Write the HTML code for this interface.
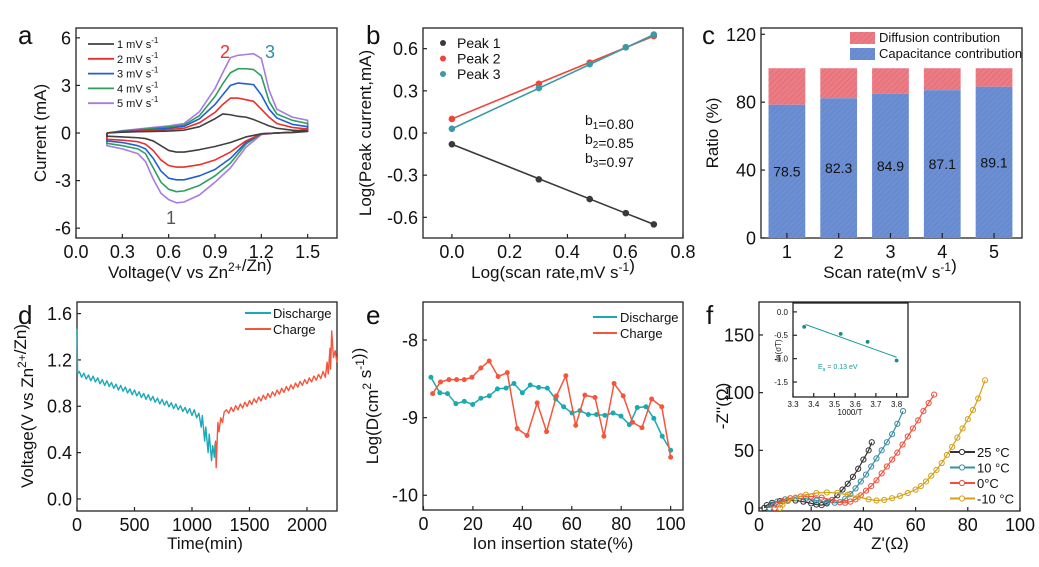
<!DOCTYPE html>
<html><head><meta charset="utf-8">
<style>
html,body{margin:0;padding:0;background:#fff;}
svg{display:block;font-family:"Liberation Sans",Arial,sans-serif;}
</style></head>
<body>
<svg id="fig" width="1039" height="567" viewBox="0 0 1039 567" xmlns="http://www.w3.org/2000/svg">
<defs>
<pattern id="hatchR" patternUnits="userSpaceOnUse" width="4" height="4" patternTransform="rotate(45)">
<rect width="4" height="4" fill="#ee7b82"/><line x1="0" y1="0" x2="0" y2="4" stroke="#c9687e" stroke-width="1"/>
</pattern>
<pattern id="hatchB" patternUnits="userSpaceOnUse" width="4" height="4" patternTransform="rotate(45)">
<rect width="4" height="4" fill="#6b8fd2"/><line x1="0" y1="0" x2="0" y2="4" stroke="#5e7fc4" stroke-width="1"/>
</pattern>
</defs>
</svg>
<script>
// ---------- Panel a data ----------
const cvRates = ['1 mV s-1','2 mV s-1','3 mV s-1','4 mV s-1','5 mV s-1'];
const cvVup = [0.2,0.3,0.4,0.5,0.6,0.7,0.8,0.9,0.95,1.0,1.05,1.1,1.15,1.2,1.25,1.3,1.4,1.5];
const cvUp1 = [0,0.05,0.08,0.1,0.12,0.18,0.4,0.9,1.2,1.15,1.05,1.0,0.85,0.65,0.45,0.3,0.18,0.12];
const cvUp2 = [0,0.08,0.12,0.16,0.22,0.3,0.65,1.3,1.8,2.2,2.2,2.1,2.0,1.5,1.0,0.6,0.35,0.25];
const cvUp3 = [0,0.1,0.15,0.22,0.3,0.42,0.9,1.8,2.4,3.0,3.15,3.1,3.05,2.4,1.5,0.95,0.55,0.4];
const cvUp4 = [0,0.12,0.2,0.3,0.38,0.5,1.1,2.3,3.1,3.8,4.05,4.05,4.0,3.6,2.0,1.2,0.8,0.6];
const cvUp5 = [0,0.15,0.25,0.35,0.45,0.6,1.35,2.8,3.8,4.75,4.9,4.95,5.0,4.7,2.7,1.5,1.0,0.8];
const cvVdn = [0.2,0.3,0.4,0.45,0.5,0.55,0.6,0.65,0.7,0.8,0.9,1.0,1.1,1.2,1.3,1.4,1.5];
const cvDn1 = [-0.2,-0.25,-0.3,-0.35,-0.5,-0.8,-1.1,-1.2,-1.2,-1.05,-0.85,-0.6,-0.25,-0.05,0.0,0.03,0.1];
const cvDn2 = [-0.4,-0.45,-0.55,-0.7,-1.1,-1.7,-2.05,-2.15,-2.15,-2.0,-1.7,-1.2,-0.5,-0.05,0.0,0.05,0.15];
const cvDn3 = [-0.5,-0.6,-0.8,-1.0,-1.6,-2.4,-2.85,-2.95,-2.95,-2.7,-2.3,-1.6,-0.6,-0.05,0.0,0.05,0.2];
const cvDn4 = [-0.65,-0.8,-1.0,-1.3,-2.2,-3.1,-3.55,-3.7,-3.65,-3.3,-2.7,-1.9,-0.7,-0.05,0.0,0.05,0.25];
const cvDn5 = [-0.8,-1.0,-1.3,-1.8,-2.9,-3.8,-4.2,-4.4,-4.35,-3.9,-3.1,-2.2,-0.9,-0.1,0.0,0.05,0.3];
const aXTicks = [0.0,0.3,0.6,0.9,1.2,1.5];
const aXLabels = ['0.0','0.3','0.6','0.9','1.2','1.5'];
const aYTicks = [-6,-3,0,3,6];
const aYLabels = ['-6','-3','0','3','6'];
// ---------- Panel b data ----------
const bLogRate = [0,0.301,0.477,0.602,0.699];
const bPeak1 = [-0.08,-0.33,-0.47,-0.57,-0.65];
const bPeak2 = [0.10,0.35,0.50,0.61,0.69];
const bPeak3 = [0.03,0.32,0.49,0.61,0.70];
const bXTicks = [0.0,0.2,0.4,0.6,0.8];
const bXLabels = ['0.0','0.2','0.4','0.6','0.8'];
const bYTicks = [-0.6,-0.3,0.0,0.3,0.6];
const bYLabels = ['-0.6','-0.3','0.0','0.3','0.6'];
// ---------- Panel c data ----------
const cRates = [1,2,3,4,5];
const cCap = [78.5,82.3,84.9,87.1,89.1];
const cCapLabels = ['78.5','82.3','84.9','87.1','89.1'];
const cTotal = [100,100,100,100,100];
const cYTicks = [0,40,80,120];
const cYLabels = ['0','40','80','120'];
// ---------- Panel d data ----------
const dDisT = [0,5,20,40,60,80,100,120,140,160,180,200,220,240,260,280,300,320,340,360,380,400,420,440,460,480,500,520,540,560,580,600,620,640,660,680,700,720,740,760,780,800,820,840,860,880,900,920,940,960,980,1000,1020,1040,1060,1080,1090,1110,1120,1140,1150,1170,1180,1195,1200];
const dDisV = [1.47,1.08,1.10,1.05,1.085,1.035,1.07,1.02,1.06,1.01,1.045,0.995,1.03,0.98,1.02,0.97,1.005,0.955,0.99,0.94,0.98,0.93,0.965,0.915,0.95,0.90,0.94,0.89,0.925,0.875,0.91,0.86,0.90,0.85,0.885,0.835,0.87,0.82,0.86,0.81,0.845,0.795,0.83,0.78,0.82,0.77,0.805,0.755,0.79,0.74,0.78,0.72,0.77,0.70,0.74,0.62,0.72,0.50,0.62,0.40,0.56,0.33,0.46,0.36,0.47];
const dChT = [1200,1205,1210,1225,1235,1250,1265,1280,1300,1320,1340,1360,1380,1400,1420,1440,1460,1480,1500,1520,1540,1560,1580,1600,1620,1640,1660,1680,1700,1720,1740,1760,1780,1800,1820,1840,1860,1880,1900,1920,1940,1960,1980,2000,2020,2040,2060,2080,2100,2120,2140,2160,2175,2185,2200,2205,2215,2230,2245,2260];
const dChV = [0.47,0.50,0.27,0.66,0.58,0.70,0.66,0.75,0.77,0.74,0.79,0.755,0.805,0.77,0.82,0.785,0.835,0.80,0.85,0.815,0.865,0.83,0.88,0.845,0.895,0.86,0.91,0.875,0.925,0.89,0.94,0.905,0.955,0.92,0.97,0.935,0.985,0.95,1.00,0.965,1.015,0.98,1.03,0.995,1.045,1.01,1.06,1.025,1.075,1.04,1.10,1.05,1.18,1.08,1.30,1.12,1.45,1.22,1.28,1.18];
const dXTicks = [0,500,1000,1500,2000];
const dXLabels = ['0','500','1000','1500','2000'];
const dYTicks = [0.0,0.4,0.8,1.2,1.6];
const dYLabels = ['0.0','0.4','0.8','1.2','1.6'];
// ---------- Panel e data ----------
const eDisX = [3.0,6.6,9.7,13.1,16.5,19.9,23.2,26.6,29.9,33.4,36.6,40.0,43.2,46.6,50.1,53.5,56.7,60.1,63.3,66.7,70.0,73.4,76.7,79.9,83.3,86.5,90.0,93.2,96.6,100];
const eDisY = [-8.48,-8.68,-8.69,-8.82,-8.79,-8.83,-8.75,-8.72,-8.63,-8.62,-8.56,-8.68,-8.58,-8.61,-8.62,-8.76,-8.86,-8.94,-8.91,-8.96,-8.96,-8.97,-8.94,-8.98,-9.09,-8.87,-8.86,-9.01,-9.24,-9.42];
const eChX = [3.7,6.9,10.3,13.4,16.5,19.6,23.2,26.6,30.2,33.9,37.9,41.9,46.0,49.8,53.8,57.6,61.6,65.3,69.4,73.0,77.1,80.8,84.6,88.4,92.3,96.4,100];
const eChY = [-8.69,-8.54,-8.51,-8.51,-8.51,-8.48,-8.36,-8.27,-8.47,-8.42,-9.14,-9.23,-8.81,-9.18,-8.72,-8.46,-9.10,-8.71,-8.74,-9.24,-8.56,-8.72,-9.06,-9.13,-8.76,-8.86,-9.51];
const eXTicks = [0,20,40,60,80,100];
const eXLabels = ['0','20','40','60','80','100'];
const eYTicks = [-10,-9,-8];
const eYLabels = ['-10','-9','-8'];
// ---------- Panel f data ----------
const fTemps = ['25 °C','10 °C','0°C','-10 °C'];
const f25X = [2,3,5,8,11,14,17,20,22,24,26,28,30,32,34,36,38,40,42,43.2];
const f25Y = [0,2.5,4.5,6,6.5,6.5,5.5,4,3,2.5,4,7,11,16,21,27,34,42,50,57];
const f10X = [4,5,7,10,14,18,22,26,29,31,33,35,37,39,41,43,45,47,49,51,53,55.2];
const f10Y = [0,3,5.5,7.5,8.5,8,6.5,5,4.5,5,8,12,17,23,29,36,43,50,57,64,73,84];
const f0X = [6,7,9,12,16,20,24,28,31,33,35,37,39,41,43,45,47,49,51,53,55,57,59,61,63,65,67.1];
const f0Y = [0,3,6,8.5,10,10,9,7,5,4.5,5.5,7.5,11,15,19,24,30,36,42,48,55,62,69,76,84,91,98.3];
const fm10X = [8,9,11,14,18,22,26,30,34,38,42,45,48,51,54,57,60,62,64,66,68,70,72,74,76,78,80,82,84,86.6];
const fm10Y = [0,3,6,9,11.5,13,13.5,13,11.5,9.5,7.5,6.5,7,8.5,10.5,13,16,19,23,28,33,39,46,53,61,69,77,85,95,110.7];
const fXTicks = [0,20,40,60,80,100];
const fXLabels = ['0','20','40','60','80','100'];
const fYTicks = [0,50,100,150];
const fYLabels = ['0','50','100','150'];
const insX = [3.354,3.53,3.66,3.80];
const insY = [-0.32,-0.47,-0.64,-1.04];
const insFitX = [3.36,3.80];
const insFitY = [-0.27,-0.97];
const insXTicks = [3.3,3.4,3.5,3.6,3.7,3.8];
const insXLabels = ['3.3','3.4','3.5','3.6','3.7','3.8'];
const insYTicks = [0,-0.5,-1.0,-1.5];
const insYLabels = ['0.0','-0.5','-1.0','-1.5'];

const NS='http://www.w3.org/2000/svg';
const svg=document.getElementById('fig');
function el(tag,attrs,parent){const e=document.createElementNS(NS,tag);for(const k in attrs)e.setAttribute(k,attrs[k]);(parent||svg).appendChild(e);return e;}
function lin(d0,d1,r0,r1){return v=>r0+(v-d0)*(r1-r0)/(d1-d0);}

function axes(name,L,T,R,B,xd,yd,xt,xl,yt,yl,fs){
  const g=el('g',{});
  
  
  const x=lin(xd[0],xd[1],L,R), y=lin(yd[0],yd[1],B,T);
  const f=el('rect',{x:L,y:T,width:R-L,height:B-T,fill:'none',stroke:'#222','stroke-width':1.3},g);
  
  
  fs=fs||18;
  xt.forEach((v,i)=>{const px=x(v);
    el('line',{x1:px,x2:px,y1:B,y2:B-4,stroke:'#222','stroke-width':1.2},g);
    const t=el('text',{x:px,y:B+fs+2,'font-size':fs,'text-anchor':'middle',fill:'#111'},g);
    
    
    t.textContent=xl[i];});
  yt.forEach((v,i)=>{const py=y(v);
    el('line',{x1:L,x2:L+4,y1:py,y2:py,stroke:'#222','stroke-width':1.2},g);
    const t=el('text',{x:L-5,y:py+fs*0.36,'font-size':fs,'text-anchor':'end',fill:'#111'},g);
    
    
    t.textContent=yl[i];});
  return {x,y};
}
function path(xs,ys,ax,color,w,name){
  const d=xs.map((v,i)=>(i?'L':'M')+ax.x(v).toFixed(2)+' '+ax.y(ys[i]).toFixed(2)).join(' ');
  const p=el('path',{d:d,fill:'none',stroke:color,'stroke-width':w,'stroke-linejoin':'round'});
  
  
  return p;
}
function dots(xs,ys,ax,color,r,name,open){
  xs.forEach((v,i)=>{const c=el('circle',{cx:ax.x(v),cy:ax.y(ys[i]),r:r,fill:open?'none':color,stroke:color,'stroke-width':open?1:0.6});
    
    });
}
function text(x,y,s,fs,name,opts){
  const t=el('text',Object.assign({x:x,y:y,'font-size':fs,fill:'#111'},opts||{}));
  
  
  t.innerHTML=s;return t;
}
const sup=s=>'<tspan dy="-7" font-size="12">'+s+'</tspan><tspan dy="7"></tspan>';
const sub=s=>'<tspan dy="4" font-size="10">'+s+'</tspan><tspan dy="-4"></tspan>';

// ---------- Panel a ----------
const ax1=axes('cv',76,28,337,238,[0,1.69],[-6.62,6.62],aXTicks,aXLabels,aYTicks,aYLabels);
const cvCols=['#404040','#e8302c','#1f5fd8','#2e9e5e','#a77ce0'];
const cvUps=[cvUp1,cvUp2,cvUp3,cvUp4,cvUp5], cvDns=[cvDn1,cvDn2,cvDn3,cvDn4,cvDn5];
for(let k=4;k>=0;k--){
  const xs=cvVup.concat(cvVdn.slice().reverse()), ys=cvUps[k].concat(cvDns[k].slice().reverse());
  path(xs.concat([cvVup[0]]),ys.concat([cvUps[k][0]]),ax1,cvCols[k],1.6,'cv-curve-'+(k+1));
}
cvRates.forEach((r,k)=>{const yy=44+k*14.8;
  const l=el('line',{x1:88,x2:114,y1:yy,y2:yy,stroke:cvCols[k],'stroke-width':1.8});
  
  
  text(117,yy+4,(k+1)+' mV s'+'<tspan dy="-5" font-size="8">-1</tspan>',11,'cv-legend-label');});
text(220,58,'2',18,'peak-2-label',{fill:'#e8302c'});
text(265,58,'3',18,'peak-3-label',{fill:'#2f8fa0'});
text(166,224,'1',18,'peak-1-label',{fill:'#555'});
text(190,278,'Voltage(V vs Zn'+sup('2+')+'/Zn)',17,'cv-x-title',{'text-anchor':'middle'});
text(0,0,'Current (mA)',17,'cv-y-title',{'text-anchor':'middle',transform:'translate(46,133) rotate(-90)'});
text(18,44,'a',26,'panel-a-letter');

// ---------- Panel b ----------
const ax2=axes('bfit',423,28,683,238,[-0.1,0.8],[-0.747,0.747],bXTicks,bXLabels,bYTicks,bYLabels);
const bCols=['#3a3a3a','#f0443a','#3a9aa8'];
[bPeak1,bPeak2,bPeak3].forEach((arr,k)=>{
  path([bLogRate[0],bLogRate[4]],[arr[0],arr[4]],ax2,bCols[k],1.6,'peak-'+(k+1)+'-fit-line');
  dots(bLogRate,arr,ax2,bCols[k],3,'peak-'+(k+1)+'-point');
  const c=el('circle',{cx:443,cy:43+k*15.5,r:3,fill:bCols[k]});
  
  
  text(457,48+k*15.5,'Peak '+(k+1),14,'peak-legend-label');});
text(585,125,'b'+sub('1')+'=0.80',14,'b1-label');
text(585,144,'b'+sub('2')+'=0.85',14,'b2-label');
text(585,163,'b'+sub('3')+'=0.97',14,'b3-label');
text(553,278,'Log(scan rate,mV s'+sup('-1')+')',17,'bfit-x-title',{'text-anchor':'middle'});
text(0,0,'Log(Peak current,mA)',17,'bfit-y-title',{'text-anchor':'middle',transform:'translate(371,133) rotate(-90)'});
text(366,44,'b',26,'panel-b-letter');

// ---------- Panel c ----------
const ax3=axes('ratio',761,28,1022,238,[0.5,5.54],[0,123.7],cRates,['1','2','3','4','5'],cYTicks,cYLabels);
const bw=0.71*(ax3.x(1)-ax3.x(0));
cRates.forEach((r,i)=>{
  const x0=ax3.x(r)-bw/2;
  const d=el('rect',{x:x0,y:ax3.y(cTotal[i]),width:bw,height:ax3.y(cCap[i])-ax3.y(cTotal[i]),fill:'url(#hatchR)'});
  
  
  const c=el('rect',{x:x0,y:ax3.y(cCap[i]),width:bw,height:ax3.y(0)-ax3.y(cCap[i]),fill:'url(#hatchB)'});
  
  
  text(ax3.x(r),ax3.y(cCap[i]/2)+5,cCapLabels[i],14,'capacitance-value-label',{'text-anchor':'middle'});
});
cRates.forEach(r=>{el('line',{x1:ax3.x(r),x2:ax3.x(r),y1:238,y2:233,stroke:'#222','stroke-width':1.2});});
const lg1=el('rect',{x:850,y:32,width:25,height:12,fill:'url(#hatchR)'});


const lg2=el('rect',{x:850,y:48,width:25,height:12,fill:'url(#hatchB)'});


text(879,42,'Diffusion contribution',13,'diffusion-legend-label');
text(879,58,'Capacitance contribution',13,'capacitance-legend-label');
text(890,278,'Scan rate(mV s'+sup('-1')+')',17,'ratio-x-title',{'text-anchor':'middle'});
text(0,0,'Ratio (%)',17,'ratio-y-title',{'text-anchor':'middle',transform:'translate(718,133) rotate(-90)'});
text(702,44,'c',26,'panel-c-letter');

// ---------- Panel d ----------
const ax4=axes('gitt',77,302,337,511,[0,2261],[-0.104,1.70],dXTicks,dXLabels,dYTicks,dYLabels);
path(dDisT,dDisV,ax4,'#1aa9b8',1.4,'discharge-curve');
path(dChT,dChV,ax4,'#f5553a',1.4,'charge-curve');
const dl1=el('line',{x1:245,x2:271,y1:313,y2:313,stroke:'#1aa9b8','stroke-width':2});


const dl2=el('line',{x1:245,x2:271,y1:329,y2:329,stroke:'#f5553a','stroke-width':2});


text(273,318,'Discharge',13,'gitt-legend-discharge');
text(273,334,'Charge',13,'gitt-legend-charge');
text(205,549,'Time(min)',17,'gitt-x-title',{'text-anchor':'middle'});
text(0,0,'Voltage(V vs Zn'+sup('2+')+'/Zn)',17,'gitt-y-title',{'text-anchor':'middle',transform:'translate(33,406) rotate(-90)'});
text(18,324,'d',26,'panel-d-letter');

// ---------- Panel e ----------
const ax5=axes('diff',423,302,683,510,[-0.2,105],[-10.19,-7.51],eXTicks,eXLabels,eYTicks,eYLabels);
path(eDisX,eDisY,ax5,'#1aa9b0',1.5,'diffusion-discharge-line');
dots(eDisX,eDisY,ax5,'#1aa9b0',2.2,'diffusion-discharge-point');
path(eChX,eChY,ax5,'#f5553a',1.5,'diffusion-charge-line');
dots(eChX,eChY,ax5,'#f5553a',2.2,'diffusion-charge-point');
const el1=el('line',{x1:593,x2:617,y1:317,y2:317,stroke:'#1aa9b0','stroke-width':2});


const el2=el('line',{x1:593,x2:617,y1:333,y2:333,stroke:'#f5553a','stroke-width':2});


text(620,322,'Discharge',13,'diff-legend-discharge');
text(620,338,'Charge',13,'diff-legend-charge');
text(553,549,'Ion insertion state(%)',17,'diff-x-title',{'text-anchor':'middle'});
text(0,0,'Log(D(cm'+sup('2')+' s'+sup('-1')+'))',17,'diff-y-title',{'text-anchor':'middle',transform:'translate(378,406) rotate(-90)'});
text(366,324,'e',26,'panel-e-letter');

// ---------- Panel f ----------
const ax6=axes('eis',759,302,1020,511,[0,100],[-2.6,178.6],fXTicks,fXLabels,fYTicks,fYLabels);
const fCols=['#333333','#3a8fa3','#f0503c','#d4a017'];
[[f25X,f25Y],[f10X,f10Y],[f0X,f0Y],[fm10X,fm10Y]].forEach((s,k)=>{
  path(s[0],s[1],ax6,fCols[k],1.2,'eis-line-'+k);
  dots(s[0],s[1],ax6,fCols[k],2.6,'eis-point-'+k,true);
  const yy=452+k*15.5;
  const l=el('line',{x1:950,x2:975,y1:yy,y2:yy,stroke:fCols[k],'stroke-width':2});
  
  
  const c=el('circle',{cx:962,cy:yy,r:2.6,fill:'#fff',stroke:fCols[k],'stroke-width':1});
  
  
  text(977,yy+5,fTemps[k],13,'eis-legend-label');
});
const insBg=el('rect',{x:793,y:303,width:115,height:94,fill:'#fff'});


const axI=axes('inset',793,303,908,397,[3.3,3.855],[-1.82,0.19],insXTicks,insXLabels,insYTicks,insYLabels,8);
path(insFitX,insFitY,axI,'#1a9a9a',1,'inset-fit-line');
dots(insX,insY,axI,'#1a8a8a',1.6,'inset-point');
text(818,369,'E'+'<tspan dy="2" font-size="5">a</tspan><tspan dy="-2"> = 0.13 eV</tspan>',7,'activation-energy-label',{fill:'#1a9a9a'});
text(850,415,'1000/T',8,'inset-x-title',{'text-anchor':'middle'});
text(0,0,'ln(σT)',8,'inset-y-title',{'text-anchor':'middle',transform:'translate(781,350) rotate(-90)'});
text(890,549,"Z'(Ω)",17,'eis-x-title',{'text-anchor':'middle'});
text(0,0,"-Z''(Ω)",17,'eis-y-title',{'text-anchor':'middle',transform:'translate(728,406) rotate(-90)'});
text(706,324,'f',26,'panel-f-letter');
</script>
</body></html>
